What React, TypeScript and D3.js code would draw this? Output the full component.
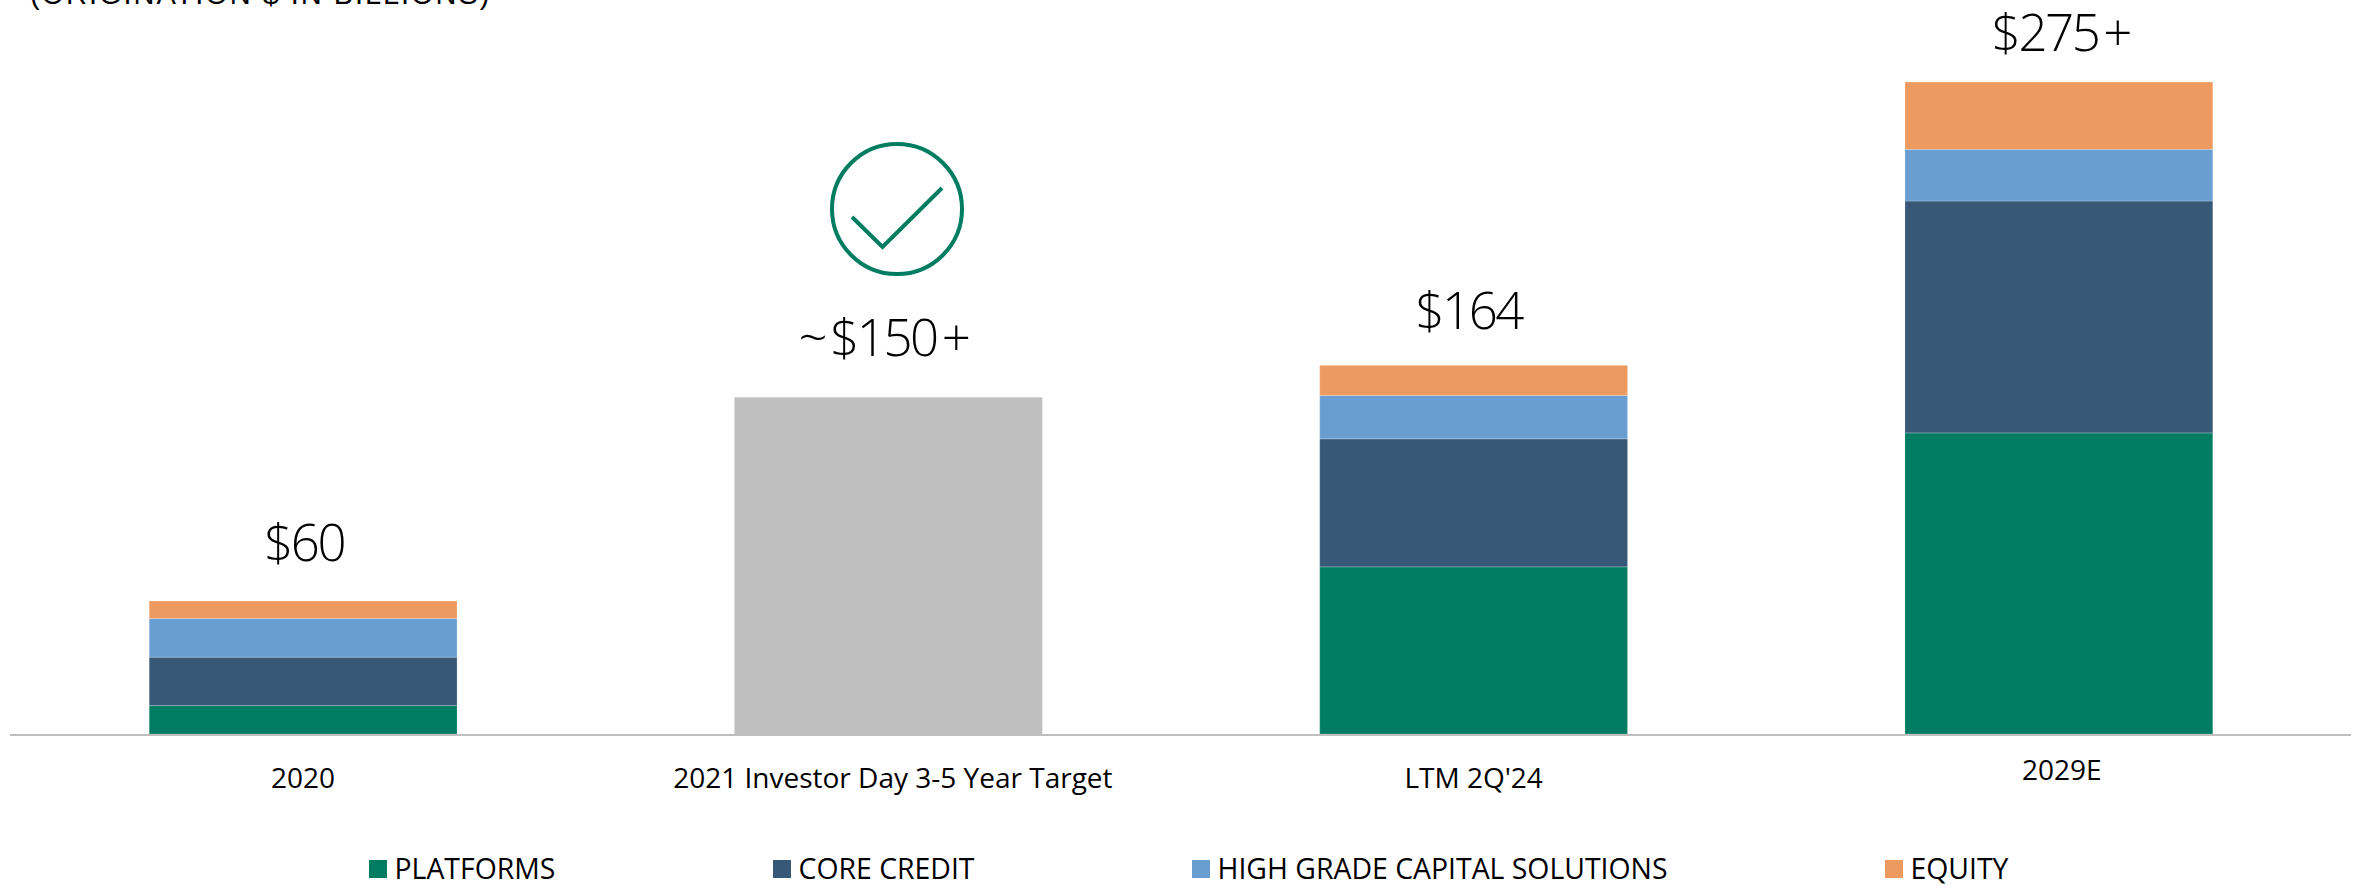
import React from "react";
import * as d3 from "d3";

const WIDTH = 2359;
const HEIGHT = 886;

const categories = ["2020", "2021 Investor Day 3-5 Year Target", "LTM 2Q'24", "2029E"];
const totalLabels = ["$60", "~$150+", "$164", "$275+"];
const seriesNames = ["PLATFORMS", "CORE CREDIT", "HIGH GRADE CAPITAL SOLUTIONS", "EQUITY"];
const seriesColors = ["#007c62", "#385877", "#699ed0", "#ec9a60"];
const targetColor = "#bfbfbf";

const platforms = [12, 0, 70.5, 127];
const coreCredit = [20.4, 0, 54, 97.8];
const highGrade = [16.3, 0, 18.3, 21.8];
const equity = [7.4, 0, 12.7, 28.4];
const targetOnly = [0, 142, 0, 0];

const rows = categories.map((c, i) => ({
  category: c,
  platforms: platforms[i],
  coreCredit: coreCredit[i],
  highGrade: highGrade[i],
  equity: equity[i],
  target: targetOnly[i],
}));

const stackKeys = ["platforms", "coreCredit", "highGrade", "equity", "target"];
const keyColors = [...seriesColors, targetColor];

const x = d3.scaleBand<string>().domain(categories).range([10.5, 2351.5]).paddingInner(0.474).paddingOuter(0.237);
const y = d3.scaleLinear().domain([0, 275]).range([734, 82]);
const layers = d3.stack<any>().keys(stackKeys)(rows);

const labelFont = "'Open Sans', 'Noto Sans', sans-serif";
const legendX = [369, 773, 1192, 1885];
const legendText = [394.5, 798.5, 1217.5, 1910.5];
const categoryDx = [0, 4.5, 0, 3];
const categoryBaseline = [788, 788, 788, 780];
const totalDx = [1, -5, -5, 2];
const totalBaseline = [561, 356, 329, 51];

// Wider gaps around ~ and + than the digits get
function totalTspans(label: string) {
  return Array.from(label).map((ch, i) => (
    <tspan key={i} dx={ch === "+" ? 5 : i === 1 && label[0] === "~" ? 5 : 0}>{ch}</tspan>
  ));
}

export default function App() {
  return (
    <svg width={WIDTH} height={HEIGHT} style={{ position: "absolute", left: 0, top: 0, background: "#fff" }} fontFamily={labelFont}>
      <text x={30} y={4} fontFamily="'Liberation Sans', Arial, sans-serif" fontSize={29} letterSpacing={1.95} fill="#000">
        (ORIGINATION $ IN BILLIONS)
      </text>

      {layers.map((layer, li) => (
        <g key={stackKeys[li]} fill={keyColors[li]}>
          {layer.map((d, i) =>
            d[1] > d[0] ? (
              <rect key={i} x={x(categories[i])} width={x.bandwidth()} y={y(d[1])} height={y(d[0]) - y(d[1])}
                stroke={stackKeys[li] === "target" ? "none" : "#fff"} strokeOpacity={0.22} strokeWidth={1} />
            ) : null
          )}
        </g>
      ))}

      <line x1={10} x2={2351} y1={735} y2={735} stroke="#bfbfbf" strokeWidth={2} />

      {categories.map((c, i) => (
        <text key={c} x={x(c)! + x.bandwidth() / 2 + categoryDx[i]} y={categoryBaseline[i]} textAnchor="middle" fontSize={28} fill="#000">
          {c}
        </text>
      ))}

      {categories.map((c, i) => (
        <text key={c} x={x(c)! + x.bandwidth() / 2 + totalDx[i]} y={totalBaseline[i]} textAnchor="middle" fontSize={51} fontWeight={300} letterSpacing={-2.5} fill="#000">
          {totalTspans(totalLabels[i])}
        </text>
      ))}

      <g fill="none" stroke="#007c62" strokeWidth={4}>
        <circle cx={897} cy={209} r={65} />
        <path d="M852,217 L882.5,247 L942,188" />
      </g>

      {seriesNames.map((name, i) => (
        <g key={name}>
          <rect x={legendX[i]} y={860} width={18} height={18} fill={seriesColors[i]} />
          <text x={legendText[i]} y={878.5} fontSize={28.4} fill="#000">{name}</text>
        </g>
      ))}
    </svg>
  );
}
